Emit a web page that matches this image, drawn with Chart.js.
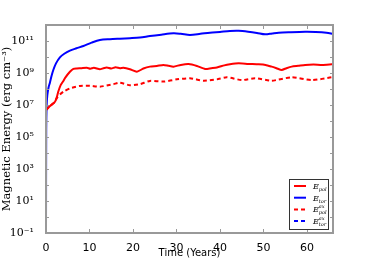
<!DOCTYPE html>
<html>
<head>
<meta charset="utf-8">
<script src="https://cdn.jsdelivr.net/npm/chart.js@4/dist/chart.umd.min.js"></script>
<style>
html,body{margin:0;padding:0;background:#fff;}
#wrap{width:370px;height:259px;position:relative;}
</style>
</head>
<body>
<div id="wrap"><canvas id="energyChart"></canvas></div>
<script>
// time (years) and energies (erg cm^-3)
const torTime = [0,0.05,0.15,0.3,0.6,0.9,1.3,1.7,2.3,3.2,4.2,5.5,7,8.6,10.5,12.4,14.7,17,19.3,21.6,23.9,26.5,29.3,31,33.1,35.5,37.7,40,42.3,44.3,46.5,48.5,50.4,52,53.5,56,59.6,62,64.5,66];
const torEnergy = [6e-2,3e5,1e7,4e7,1.3e8,2.5e8,7e8,1.6e9,4e9,9.5e9,1.6e10,2.5e10,3.5e10,4.9e10,7.9e10,1.15e11,1.3e11,1.4e11,1.5e11,1.65e11,2.05e11,2.5e11,3e11,2.8e11,2.4e11,2.8e11,3.3e11,3.7e11,4.2e11,4.3e11,3.8e11,3.2e11,2.6e11,2.95e11,3.3e11,3.55e11,3.8e11,3.7e11,3.3e11,2.75e11];

const polTime = [0,1,2.07,2.5,2.83,3.4,4,4.4,5.5,6.3,7.1,8.2,9.4,10.2,11,12.4,13.2,14,15,16,17,17.8,19.3,20.9,22.4,23.9,25.5,27,28.2,29.3,31,32.8,34.7,36.6,38,39.3,41,42.3,44.3,46.5,48.9,50.5,51.9,53,54.2,55.3,56.5,58,59.6,61.5,63.5,65.7,66];
const polEnergy = [4.9e6,8.9e6,1.6e7,3.2e7,7e7,1.8e8,3.2e8,5e8,1.2e9,1.8e9,1.9e9,2e9,2.1e9,1.85e9,2.1e9,1.7e9,2e9,2.2e9,1.9e9,2.3e9,2e9,2.1e9,1.7e9,1.2e9,1.9e9,2.5e9,2.75e9,3.2e9,2.8e9,2.5e9,3.2e9,3.6e9,2.75e9,1.8e9,2e9,2.2e9,3e9,3.5e9,4e9,3.7e9,3.5e9,3.2e9,2.5e9,2e9,1.55e9,2e9,2.5e9,2.8e9,3.2e9,3.4e9,3.2e9,3.5e9,3.55e9];

const polAxTime = [0,1,2.07,2.45,3.2,4,5.5,7.8,10.1,12.4,15.5,17,19.3,21.6,23.9,27,30.1,33.1,36.2,39.3,41.6,45,48.1,51.9,56.5,61.2,65.7,66];
const polAxEnergy = [4.9e6,8.9e6,1.6e7,2.6e7,4.5e7,6.8e7,1.1e8,1.55e8,1.6e8,1.4e8,2e8,2.5e8,1.7e8,2e8,3.2e8,2.9e8,4e8,4.7e8,3.3e8,4e8,5.4e8,3.6e8,4.7e8,3.3e8,5.4e8,3.6e8,5.4e8,5.4e8];

// axisymmetric toroidal part stays below the plotted range
const torAxTime = [];
const torAxEnergy = [];

const xTicks = [0,10,20,30,40,50,60];
const yExponents = [-1,0,1,2,3,4,5,6,7,8,9,10,11,12];

const legendNames = [["E","pol",""],["E","tor",""],["E","pol","ax"],["E","tor","ax"]];

const sup = {"-":"\u207b","0":"\u2070","1":"\u00b9","2":"\u00b2","3":"\u00b3","4":"\u2074","5":"\u2075","6":"\u2076","7":"\u2077","8":"\u2078","9":"\u2079"};

function pts(t, v){
return t.map((x,i) => ({x:x, y:v[i]}));
}

const frameColor = "#999999";

// inward tick marks on all four sides plus top/right frame
const framePlugin = {
id:"frame",
afterDraw(chart){
const ctx = chart.ctx;
const a = chart.chartArea;
const xs = chart.scales.x;
const ys = chart.scales.y;
ctx.save();
ctx.strokeStyle = frameColor;
ctx.lineWidth = 1;
xTicks.forEach(v => {
const p = Math.round(xs.getPixelForValue(v)) + 0.5;
ctx.beginPath();
ctx.moveTo(p, a.bottom); ctx.lineTo(p, a.bottom - 4);
ctx.moveTo(p, a.top); ctx.lineTo(p, a.top + 4);
ctx.stroke();
});
yExponents.forEach(e => {
const p = Math.round(ys.getPixelForValue(Math.pow(10,e))) + 0.5;
ctx.beginPath();
ctx.moveTo(a.left, p); ctx.lineTo(a.left + 3, p);
ctx.moveTo(a.right, p); ctx.lineTo(a.right - 3, p);
ctx.stroke();
});
ctx.lineWidth = 2;
ctx.strokeRect(a.left, a.top, a.right - a.left, a.bottom - a.top);

// legend box
const lx = 289, ly = 179, lw = 39, lh = 50;
ctx.fillStyle = "#fff";
ctx.fillRect(lx, ly, lw, lh);
ctx.strokeStyle = "#333";
ctx.lineWidth = 1;
ctx.strokeRect(lx + 0.5, ly + 0.5, lw, lh);
chart.data.datasets.forEach((ds, i) => {
const y = ly + 7 + i * 11.7;
ctx.strokeStyle = ds.borderColor;
ctx.lineWidth = 2;
ctx.setLineDash(ds.borderDash || []);
ctx.beginPath();
ctx.moveTo(lx + 5, y); ctx.lineTo(lx + 17, y);
ctx.stroke();
ctx.setLineDash([]);
const n = legendNames[i];
ctx.fillStyle = "#000";
ctx.textBaseline = "alphabetic";
ctx.textAlign = "left";
ctx.font = "italic 8px 'DejaVu Serif'";
ctx.fillText(n[0], lx + 24, y + 3);
const w = ctx.measureText(n[0]).width;
ctx.font = "italic 5px 'DejaVu Serif'";
ctx.fillText(n[1], lx + 24 + w, y + 5);
if(n[2]) ctx.fillText(n[2], lx + 24 + w, y - 1);
});
ctx.restore();
}
};

new Chart(document.getElementById("energyChart"),{

type:"line",

data:{
datasets:[
{
label:"E_pol",
data:pts(polTime, polEnergy),
borderColor:"#ff0000",
borderWidth:2,
pointRadius:0,
tension:0.2
},
{
label:"E_tor",
data:pts(torTime, torEnergy),
borderColor:"#0000ff",
borderWidth:2,
pointRadius:0,
tension:0.3
},
{
label:"E_pol^ax",
data:pts(polAxTime, polAxEnergy),
borderColor:"#ff0000",
borderWidth:2,
borderDash:[4,3],
pointRadius:0,
tension:0.2
},
{
label:"E_tor^ax",
data:pts(torAxTime, torAxEnergy),
borderColor:"#0000ff",
borderWidth:2,
borderDash:[4,3],
pointRadius:0
}
]
},

options:{
responsive:true,
maintainAspectRatio:false,
animation:false,
layout:{padding:{left:0,right:37,top:25,bottom:0}},
plugins:{legend:{display:false},tooltip:{enabled:false}},
scales:{
x:{
type:"linear",
min:0,
max:66,
afterBuildTicks:s => { s.ticks = xTicks.map(v => ({value:v})); },
afterFit:s => { s.height = 26; },
grid:{display:false},
border:{display:false},
ticks:{color:"#000",font:{family:"DejaVu Sans",size:11},padding:1,maxRotation:0},
title:{display:true,text:"Time (Years)",color:"#000",font:{family:"DejaVu Sans",size:10},padding:{top:0,bottom:0}}
},
y:{
type:"logarithmic",
min:0.1,
max:1e12,
afterBuildTicks:s => { s.ticks = yExponents.map(e => ({value:Math.pow(10,e)})); },
afterFit:s => { s.width = 46; },
grid:{display:false},
border:{display:false},
ticks:{
color:"#000",
font:{family:"DejaVu Serif",size:11},
padding:4,
autoSkip:false,
callback:(v) => {
const e = Math.round(Math.log10(v));
if(e % 2 === 0 || e >= 12) return "";
return "10" + String(e).split("").map(c => sup[c]).join("");
}
},
title:{display:true,text:"Magnetic Energy (erg cm\u207b\u00b3)",color:"#000",font:{family:"DejaVu Serif",size:11.5},padding:{top:0,bottom:1}}
}
}
},

plugins:[framePlugin]

});
</script>
</body>
</html>
